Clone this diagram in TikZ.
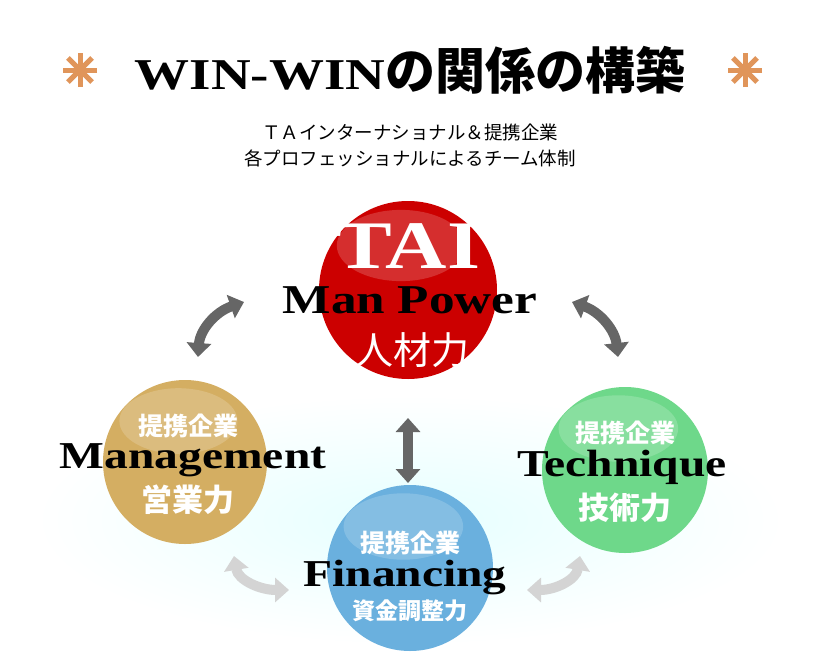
\documentclass[tikz,border=0pt]{standalone}
\usepackage{fontspec}
\setmainfont{Liberation Serif}
\newfontfamily\wide[FakeStretch=1.25]{Liberation Serif}
\newfontfamily\jp{Noto Sans CJK JP}
\usetikzlibrary{arrows.meta,shadings,calc}
\definecolor{darkarrow}{HTML}{666666}
\definecolor{lightarrow}{HTML}{D4D4D4}
\definecolor{ballred}{HTML}{CC0000}
\definecolor{ballgold}{HTML}{D4AE62}
\definecolor{ballgreen}{HTML}{6ED88A}
\definecolor{ballblue}{HTML}{6AB0DE}
\definecolor{starorange}{HTML}{E0955A}
\tikzset{
  dbl/.style={line width=10pt,{Triangle[width=24pt,length=14pt]}-{Triangle[width=24pt,length=14pt]}},
  wtxt/.style={text=white},
  btxt/.style={text=black}
}
\newcommand{\myball}[4]{%
  \fill[#4] (#1,#2) circle (#3);
  \fill[white,opacity=0.18] (#1-0.08*#3,#2-0.5*#3) ellipse ({0.72*#3} and {0.4*#3});
}
\begin{document}
\begin{tikzpicture}[x=1pt,y=-1pt]
\useasboundingbox (0,0) rectangle (820,670);
\shade[inner color=cyan!10,outer color=white] (410,520) ellipse (375 and 125);
\node[inner sep=0pt] (title) at (410,70) {\wide\bfseries\fontsize{44}{48}\selectfont WIN-WIN{\jp\fontsize{50}{54}\selectfont の関係の構築}};
\foreach \cx/\nm in {80/sl,745/sr}{
  \coordinate (\nm) at (\cx,70);
  \foreach \a in {0,45,90,135}
    \draw[starorange,line width=5pt] ($(\nm)+(\a:17)$) -- ($(\nm)+(\a+180:17)$);
}
\node[font=\jp\fontsize{18.5}{26}\selectfont,align=center] (sub) at (410,145) {ＴＡインターナショナル＆提携企業\\各プロフェッショナルによるチーム体制};
\myball{408}{290}{89}{ballred}
\myball{185}{462}{82}{ballgold}
\myball{625}{470}{83}{ballgreen}
\myball{410}{568}{83}{ballblue}
\coordinate (a1) at (244,302); \coordinate (a2) at (198,357);
\draw[dbl,darkarrow] (a1) .. controls (215,312) and (200,330) .. (a2);
\coordinate (b1) at (572,302); \coordinate (b2) at (618,357);
\draw[dbl,darkarrow] (b1) .. controls (600,312) and (615,330) .. (b2);
\coordinate (c1) at (408,418); \coordinate (c2) at (408,483);
\draw[dbl,darkarrow] (c1) -- (c2);
\coordinate (d1) at (234,556); \coordinate (d2) at (289,590);
\draw[dbl,lightarrow] (d1) .. controls (238,580) and (260,590) .. (d2);
\coordinate (e1) at (580,556); \coordinate (e2) at (527,590);
\draw[dbl,lightarrow] (e1) .. controls (576,580) and (555,590) .. (e2);
\node[wtxt,font=\wide\bfseries\fontsize{68}{68}\selectfont] (tai) at (408,246) {TAI};
\node[btxt,font=\wide\bfseries\fontsize{41}{44}\selectfont] (mp) at (410,300) {Man Power};
\node[wtxt,font=\jp\fontsize{38}{40}\selectfont] (jr) at (412,350) {人材力};
\node[wtxt,font=\jp\bfseries\fontsize{25}{28}\selectfont] (g1) at (188,426) {提携企業};
\node[btxt,font=\wide\bfseries\fontsize{38}{40}\selectfont] (g2) at (193,460) {Management};
\node[wtxt,font=\jp\bfseries\fontsize{31}{34}\selectfont] (g3) at (188,500) {営業力};
\node[wtxt,font=\jp\bfseries\fontsize{25}{28}\selectfont] (n1) at (625,433) {提携企業};
\node[btxt,font=\wide\bfseries\fontsize{38}{40}\selectfont] (n2) at (622,467) {Technique};
\node[wtxt,font=\jp\bfseries\fontsize{31}{34}\selectfont] (n3) at (625,508) {技術力};
\node[wtxt,font=\jp\bfseries\fontsize{25}{28}\selectfont] (f1) at (410,543) {提携企業};
\node[btxt,font=\wide\bfseries\fontsize{38}{40}\selectfont] (f2) at (405,578) {Financing};
\node[wtxt,font=\jp\bfseries\fontsize{23}{26}\selectfont] (f3) at (410,611) {資金調整力};
\end{tikzpicture}
\end{document}
